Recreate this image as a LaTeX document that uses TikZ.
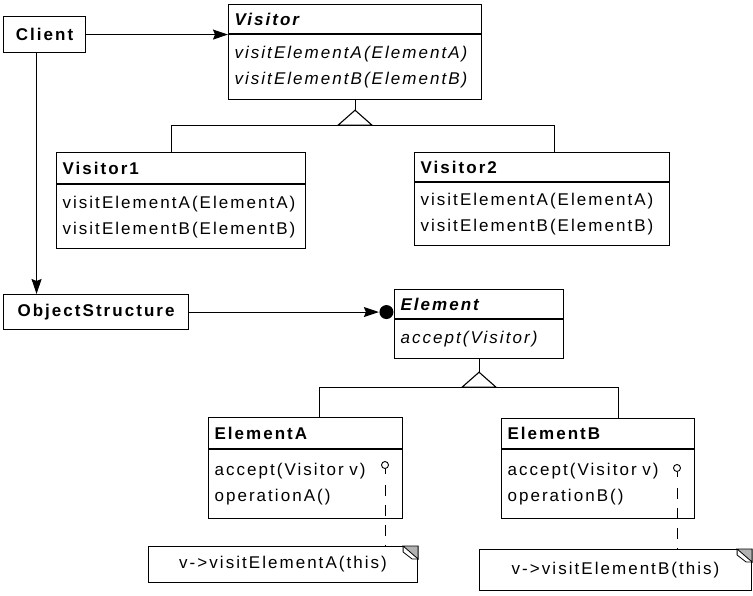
\documentclass[tikz,border=0pt]{standalone}
\usepackage{fontspec}
\setmainfont{Liberation Sans}[LetterSpace=12]
\usepackage{tikz}
\usetikzlibrary{arrows.meta, calc, positioning}

\begin{document}
\begin{tikzpicture}[x=1pt, y=-1pt,
		line width=1.1pt,
		hd/.style={draw, anchor=north west, inner xsep=6pt, inner ysep=0pt, align=left, font=\bfseries\fontsize{17}{20}\selectfont},
		ops/.style={draw, anchor=north west, inner xsep=6pt, inner ysep=0pt, align=left, font=\fontsize{17}{26}\selectfont},
		obj/.style={draw, anchor=north west, inner sep=0pt, font=\bfseries\fontsize{17}{20}\selectfont},
		memo/.style={draw, anchor=north west, inner sep=0pt, font=\fontsize{17}{20}\selectfont},
		assoc/.style={-{Stealth[length=15pt, width=10pt, inset=2pt]}},
		knob/.style={circle, draw, inner sep=0pt, minimum size=7pt, line width=0.9pt},
		dot/.style={circle, fill, inner sep=0pt, minimum size=14pt},
		refline/.style={dash pattern=on 11pt off 9pt}]
			\useasboundingbox (0,0) rectangle (753,595);
			
			% Client and ObjectStructure
			\node[obj, minimum width=82, minimum height=36] (client) at (3,16) {Client};
			\node[obj, minimum width=185, minimum height=35] (objstruct) at (3,294) {ObjectStructure};
			
			% Visitor hierarchy
			\node[hd, text width=241pt, minimum height=29] (visitor) at (228,4) {\itshape Visitor};
			\node[ops, text width=241pt, minimum height=65, font=\itshape\fontsize{17}{26}\selectfont] (visitor-ops) at (visitor.south west) {visitElementA(ElementA)\\visitElementB(ElementB)};
			
			\node[hd, text width=237pt, minimum height=31] (visitor1) at (56,152) {Visitor1};
			\node[ops, text width=237pt, minimum height=64] (visitor1-ops) at (visitor1.south west) {visitElementA(ElementA)\\visitElementB(ElementB)};
			
			\node[hd, text width=243pt, minimum height=29] (visitor2) at (414,152) {Visitor2};
			\node[ops, text width=243pt, minimum height=63] (visitor2-ops) at (visitor2.south west) {visitElementA(ElementA)\\visitElementB(ElementB)};
			
			% Element hierarchy
			\node[hd, text width=157pt, minimum height=29] (element) at (394,289) {\itshape Element};
			\node[ops, text width=157pt, minimum height=39, font=\itshape\fontsize{17}{26}\selectfont] (element-ops) at (element.south west) {accept(Visitor)};
			
			\node[hd, text width=182pt, minimum height=31] (elemA) at (208,417) {ElementA};
			\node[ops, text width=182pt, minimum height=69] (elemA-ops) at (elemA.south west) {accept(Visitor v)\\operationA()};
			
			\node[hd, text width=181pt, minimum height=30] (elemB) at (501,418) {ElementB};
			\node[ops, text width=181pt, minimum height=69] (elemB-ops) at (elemB.south west) {accept(Visitor v)\\operationB()};
			
			% Notes
			\node[memo, minimum width=269, minimum height=36] (noteA) at (148,546) {v->visitElementA(this)};
			\node[memo, minimum width=272, minimum height=41] (noteB) at (479,549) {v->visitElementB(this)};
			\foreach \n in {noteA, noteB} {
				\coordinate (ca) at (\n.north east);
				\filldraw[fill=gray!60, line width=0.8pt] ([xshift=-15]ca) -- (ca) -- ([yshift=-13]ca) -- cycle;
				\draw[line width=0.8pt] ([xshift=-15]ca) -- ([xshift=-15,yshift=-6]ca) -- ([xshift=-6,yshift=-13]ca) -- ([yshift=-13]ca);
			}
			
			% Associations
			\draw[assoc] (client.east) -- (client.east -| visitor.west);
			\draw[assoc] ([xshift=-8]client.south) -- ([xshift=-8]client.south |- objstruct.north);
			\node[dot, anchor=east] (edot) at (objstruct.east -| element.west) {};
			\draw[assoc] (objstruct) -- (edot);
			
			% Inheritance
			\draw (visitor-ops.south) -- ++(0,10) coordinate (vtip);
			\draw (vtip) -- ++(-17,15) coordinate (vbase) -- ++(34,0) -- cycle;
			\draw ([xshift=-10]visitor1.north) |- (vbase) -| ([xshift=12]visitor2.north);
			
			\draw (element-ops.south) -- ++(0,13) coordinate (etip);
			\draw (etip) -- ++(-17,15) coordinate (ebase) -- ++(34,0) -- cycle;
			\draw ([xshift=14]elemA.north) |- (ebase) -| ([xshift=20]elemB.north);
			
			% Implementation notes
			\node[knob] (knobA) at (385,465) {};
			\node[knob] (knobB) at (677,468) {};
			\draw[line width=0.9pt] (knobA.south) -- ++(0,5);
			\draw[line width=0.9pt] (knobB.south) -- ++(0,5);
			\draw[line width=0.9pt, refline] ([yshift=-16]knobA.south) -- (knobA |- noteA.north);
			\draw[line width=0.9pt, refline] ([yshift=-16]knobB.south) -- (knobB |- noteB.north);
		\end{tikzpicture}
\end{document}
